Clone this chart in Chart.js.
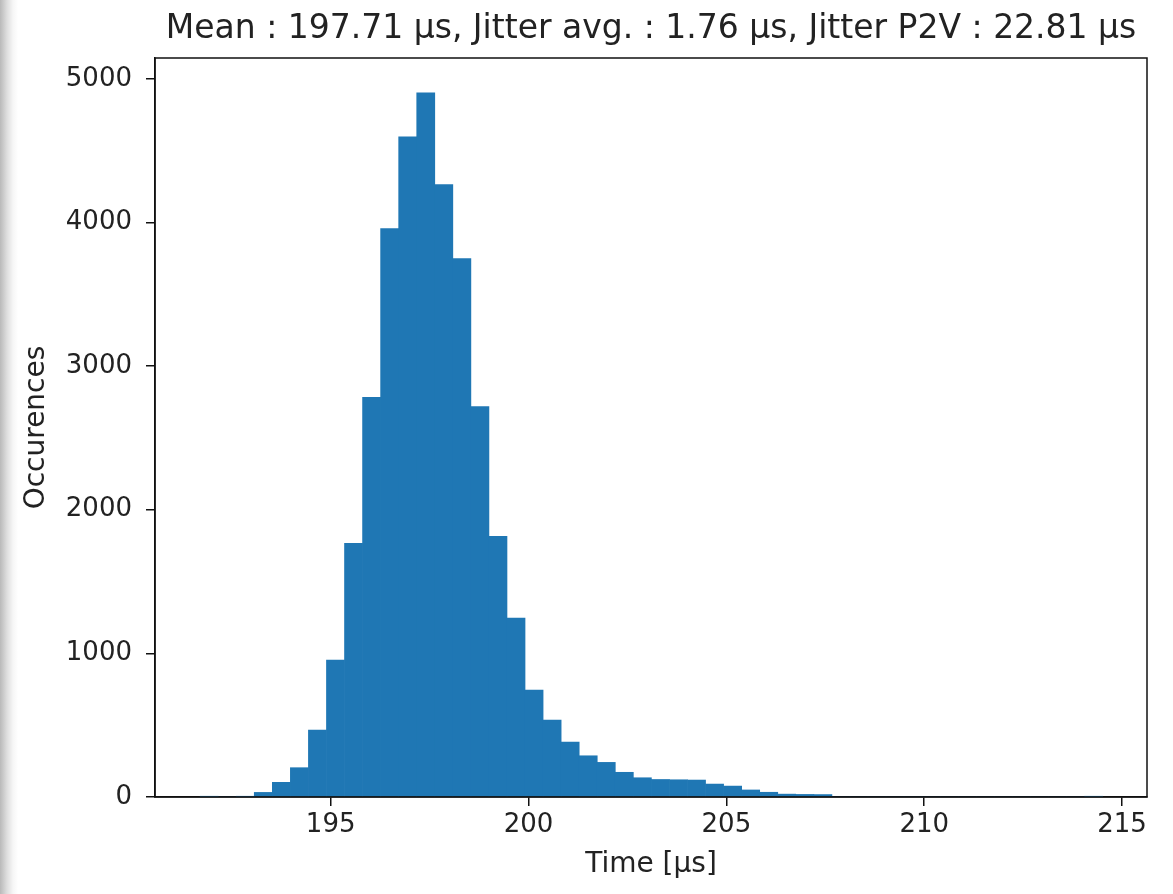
<!DOCTYPE html>
<html>
<head>
<meta charset="utf-8">
<script src="https://cdn.jsdelivr.net/npm/chart.js@4/dist/chart.umd.min.js"></script>
<style>
  html, body { margin: 0; padding: 0; }
  body {
    width: 1173px; height: 894px; overflow: hidden;
    background: linear-gradient(to right, #b9b9b9 0px, #dedede 7px, #f6f6f6 13px, #ffffff 18px);
  }
  #chart { display: block; }
</style>
</head>
<body>
<canvas id="chart" width="1173" height="894"></canvas>
<script>
// histogram: 50 bins between the min and max sample (P2V = 22.81 µs)
const binStart = 191.70;
const binWidth = 0.4562;
const counts = [
  1, 0, 3, 32, 102, 204, 466, 953, 1766, 2782,
  3957, 4597, 4903, 4263, 3748, 2719, 1815, 1245, 744, 535,
  382, 287, 241, 172, 134, 122, 120, 118, 90, 76,
  49, 33, 20, 18, 17, 0, 0, 0, 0, 0,
  0, 0, 0, 0, 0, 0, 0, 0, 0, 1
];
const xTicks = [195, 200, 205, 210, 215];
const yTicks = [0, 1000, 2000, 3000, 4000, 5000];
const titleText = 'Mean : 197.71 µs, Jitter avg. : 1.76 µs, Jitter P2V : 22.81 µs';

const xMin = 190.56, xMax = 215.63;
const yMax = 5145;

const points = counts.map((c, i) => ({ x: binStart + (i + 0.5) * binWidth, y: c }));

const font = 'DejaVu Sans';
const textColor = '#222';

// 标题和外框
const framePlugin = {
  id: 'frame',
  afterDraw(chart) {
    const { ctx, chartArea: a } = chart;
    ctx.save();
    ctx.strokeStyle = '#111';
    ctx.lineWidth = 1.5;
    ctx.strokeRect(a.left, a.top, a.right - a.left, a.bottom - a.top);
    ctx.fillStyle = textColor;
    ctx.font = '33px "' + font + '"';
    ctx.textAlign = 'center';
    ctx.textBaseline = 'middle';
    ctx.fillText(titleText, (a.left + a.right) / 2, 29);
    ctx.restore();
  }
};

new Chart(document.getElementById('chart'), {
  type: 'bar',
  data: {
    datasets: [{
      data: points,
      backgroundColor: '#1f77b4',
      borderWidth: 0,
      barPercentage: 1,
      categoryPercentage: 1
    }]
  },
  options: {
    responsive: false,
    animation: false,
    layout: { padding: { top: 58, right: 26, left: 0, bottom: 0 } },
    plugins: { legend: { display: false }, tooltip: { enabled: false } },
    scales: {
      x: {
        type: 'linear',
        min: xMin,
        max: xMax,
        offset: false,
        afterFit: s => { s.height = 97; },
        afterBuildTicks: s => { s.ticks = xTicks.map(v => ({ value: v })); },
        grid: { offset: false, drawOnChartArea: false, drawTicks: true, tickLength: 9, color: '#111', lineWidth: 1.5 },
        border: { display: true, color: '#111', width: 1.5 },
        ticks: { color: textColor, font: { family: font, size: 26 }, padding: 4, maxRotation: 0,
                 callback: v => String(v) },
        title: { display: true, text: 'Time [µs]', color: textColor,
                 font: { family: font, size: 28 }, padding: { top: 0, bottom: 12 } }
      },
      y: {
        min: 0,
        max: yMax,
        afterFit: s => { s.width = 155; },
        afterBuildTicks: s => { s.ticks = yTicks.map(v => ({ value: v })); },
        grid: { drawOnChartArea: false, drawTicks: true, tickLength: 9, color: '#111', lineWidth: 1.5 },
        border: { display: true, color: '#111', width: 1.5 },
        ticks: { color: textColor, font: { family: font, size: 26 }, padding: 14,
                 callback: v => String(v) },
        title: { display: true, text: 'Occurences', color: textColor,
                 font: { family: font, size: 28 }, padding: { top: 20, bottom: 0 } }
      }
    }
  },
  plugins: [framePlugin]
});
</script>
</body>
</html>
